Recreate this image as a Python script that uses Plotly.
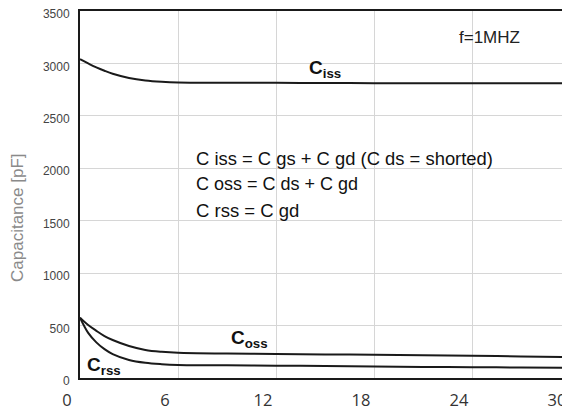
import plotly.graph_objects as go

vds = [0, 0.5, 1, 1.5, 2, 3, 4, 5, 6, 9, 12, 15, 18, 21, 24, 27, 30]
ciss = [3040, 3000, 2962, 2930, 2902, 2862, 2838, 2825, 2818, 2816, 2815, 2813, 2812, 2811, 2810, 2810, 2810]
coss = [575, 505, 450, 400, 362, 305, 268, 250, 240, 233, 229, 225, 221, 217, 212, 206, 200]
crss = [575, 430, 340, 275, 228, 172, 145, 132, 125, 121, 118, 114, 110, 106, 103, 100, 98]

x_ticks = [0, 6, 12, 18, 24, 30]
y_ticks = [0, 500, 1000, 1500, 2000, 2500, 3000, 3500]

fig = go.Figure()
for ys in (ciss, coss, crss):
    fig.add_trace(go.Scatter(x=vds, y=ys, mode="lines", line=dict(color="#1a1a1a", width=2, shape="spline"),
                             showlegend=False, hoverinfo="skip"))

font = "Liberation Sans, Arial, sans-serif"
ann = [
    dict(x=15.0, y=2945, text="<b>C<sub>iss</sub></b>"),
    dict(x=10.35, y=372, text="<b>C<sub>oss</sub></b>"),
    dict(x=1.45, y=118, text="<b>C<sub>rss</sub></b>"),
]
for a in ann:
    fig.add_annotation(x=a["x"], y=a["y"], text=a["text"], showarrow=False,
                       font=dict(family=font, size=19, color="#111"))

fig.add_annotation(x=23.1, y=3250, text="f=1MHZ", showarrow=False, xanchor="left",
                   font=dict(family=font, size=17, color="#222"))
fig.add_annotation(x=6.95, y=2095, text="C iss = C gs + C gd (C ds = shorted)", showarrow=False, xanchor="left",
                   font=dict(family=font, size=18.4, color="#111"))
fig.add_annotation(x=6.95, y=1852, text="C oss = C ds + C gd", showarrow=False, xanchor="left",
                   font=dict(family=font, size=18, color="#111"))
fig.add_annotation(x=6.95, y=1600, text="C rss = C gd", showarrow=False, xanchor="left",
                   font=dict(family=font, size=18.5, color="#111"))

# y-axis title placed as rotated text
fig.add_annotation(xref="paper", yref="paper", x=-(72 - 9) / 490, y=160 / 367,
                   xanchor="center", yanchor="middle",
                   text="Capacitance [pF]", textangle=-90, showarrow=False,
                   font=dict(family=font, size=17, color="#8a8a8a"))

# page body has an 8px margin; size the figure so the plot area lands where the reference has it
fig.update_layout(
    width=562, height=404,
    margin=dict(l=72, r=0, t=3, b=34, autoexpand=False),
    paper_bgcolor="white", plot_bgcolor="white",
    font=dict(family=font),
)
fig.update_xaxes(range=[0, 30], tickvals=x_ticks, ticktext=[str(v) for v in x_ticks],
                 showgrid=True, gridcolor="#d6d6d6", gridwidth=1,
                 showline=True, linecolor="#1a1a1a", linewidth=2, mirror=True,
                 zeroline=False, ticks="", automargin=False, ticklabeloverflow="allow",
                 ticklabelshift=-13, ticklabelstandoff=6,
                 tickfont=dict(family="Open Sans, sans-serif", size=16.5, color="#333"))
fig.update_yaxes(range=[0, 3500], tickvals=y_ticks, ticktext=[str(v) for v in y_ticks],
                 showgrid=True, gridcolor="#d6d6d6", gridwidth=1,
                 showline=True, linecolor="#1a1a1a", linewidth=2, mirror=True,
                 zeroline=False, ticks="", automargin=False, ticklabeloverflow="allow",
                 ticklabelstandoff=6, ticklabelshift=3,
                 tickfont=dict(size=12, color="#444"))

fig.write_html("out.html")
